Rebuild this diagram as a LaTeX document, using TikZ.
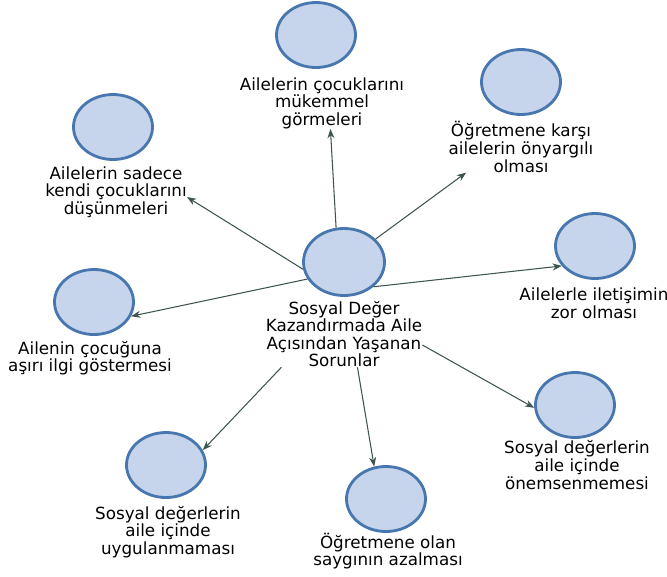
\documentclass[tikz,border=0pt]{standalone}
\usepackage{fontspec}
\setmainfont{DejaVu Sans}
\usetikzlibrary{arrows.meta,positioning,shapes.geometric}
\definecolor{bubblefill}{RGB}{198,213,235}
\definecolor{bubbleedge}{RGB}{72,118,174}
\definecolor{linkcol}{RGB}{62,84,78}

\begin{document}
\begin{tikzpicture}[x=0.03cm,y=-0.03cm,>={Stealth[length=8pt,width=6pt]},
  bubble/.style={ellipse,draw=bubbleedge,fill=bubblefill,line width=2.4pt,
    minimum width=2.37cm,minimum height=1.95cm,inner sep=0pt},
  lbl/.style={align=center,inner sep=0pt,font=\fontsize{14.3}{15}\selectfont},
  link/.style={->,draw=linkcol,line width=0.9pt}]
  \useasboundingbox (0,0) rectangle (667,576);
  % hub
  \node[bubble,minimum width=2.43cm,minimum height=2.01cm] (hub) at (344,262) {};
  \node[lbl] (hubl) at (344,334) {Sosyal Değer\\Kazandırmada Aile\\Açısından Yaşanan\\Sorunlar};
  % problems around the hub
  \node[bubble] (p1) at (316,35) {};
  \node[lbl] (p1l) at (322,103) {Ailelerin çocuklarını\\mükemmel\\görmeleri};
  \node[bubble] (p2) at (521,82) {};
  \node[lbl] (p2l) at (521,147) {Öğretmene karşı\\ailelerin önyargılı\\olması};
  \node[bubble] (p3) at (113,127) {};
  \node[lbl] (p3l) at (116,192) {Ailelerin sadece\\kendi çocuklarını\\düşünmeleri};
  \node[bubble] (p4) at (595,246) {};
  \node[lbl] (p4l) at (594,303) {Ailelerle iletişimin\\zor olması};
  \node[bubble] (p5) at (94,302) {};
  \node[lbl] (p5l) at (90,358) {Ailenin çocuğuna\\aşırı ilgi göstermesi};
  \node[bubble] (p6) at (166,465) {};
  \node[lbl] (p6l) at (168,532) {Sosyal değerlerin\\aile içinde\\uygulanmaması};
  \node[bubble] (p7) at (386,499) {};
  \node[lbl] (p7l) at (388,551) {Öğretmene olan\\saygının azalması};
  \node[bubble] (p8) at (575,405) {};
  \node[lbl] (p8l) at (577,465) {Sosyal değerlerin\\aile içinde\\önemsenmemesi};
  % arrows out of the hub
  \draw[link] (hub.103) -- (p1l.-72);
  \draw[link] (hub.36) -- (p2l.-155);
  \draw[link] (hub.190) -- (p3l.-4);
  \draw[link] (hub.-40) -- (p4.211);
  \draw[link] (hub.-155) -- (p5.-21);
  \draw[link] (hubl.-152) -- (p6.22);
  \draw[link] (hubl.-68) -- (p7.110);
  \draw[link] (hubl.-8) -- (p8.184);
\end{tikzpicture}
\end{document}
